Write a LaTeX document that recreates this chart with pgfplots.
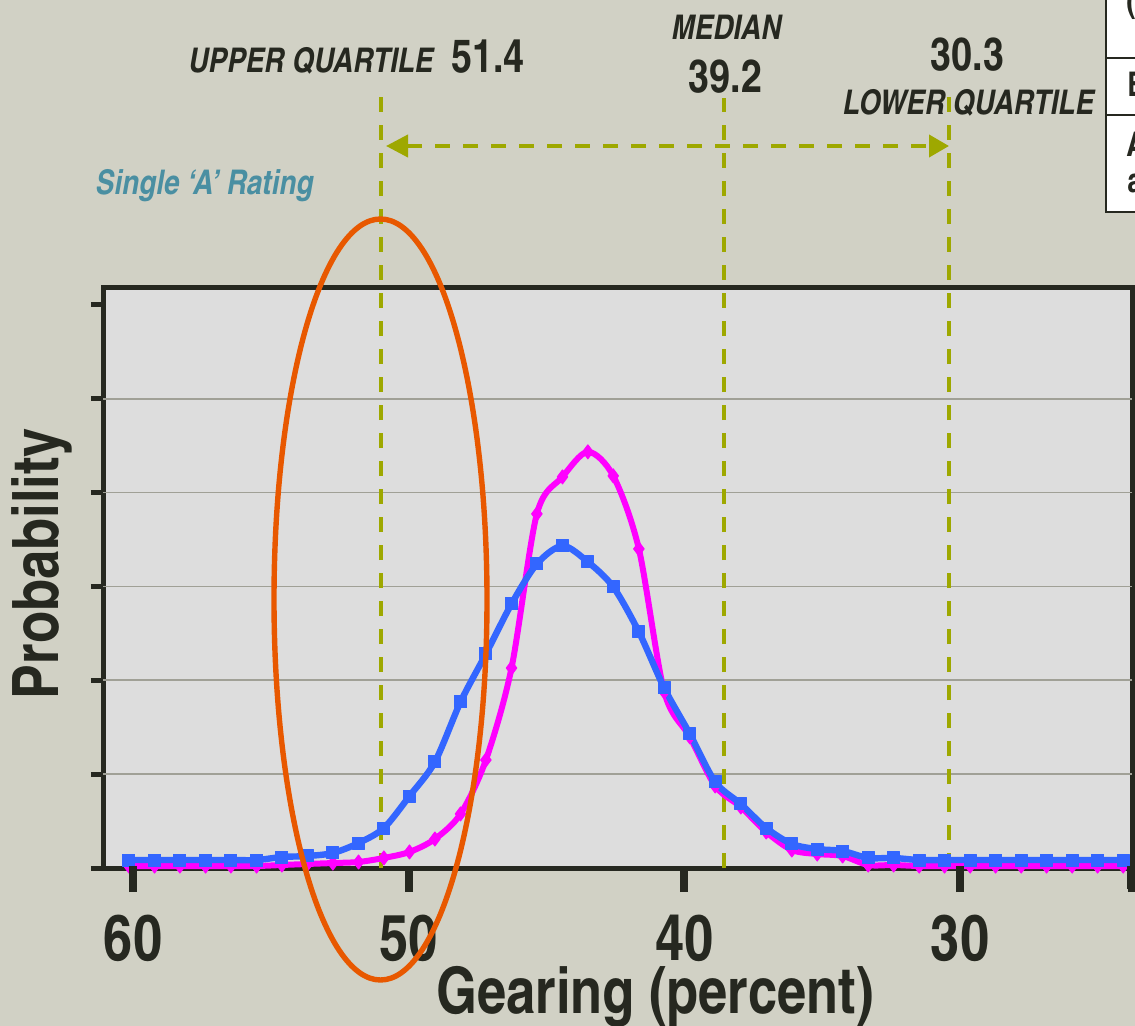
\documentclass[border=0pt]{standalone}
\usepackage{fontspec}
\setmainfont{texgyreheroscn}[Extension=.otf, UprightFont=*-regular, BoldFont=*-bold, ItalicFont=*-italic, BoldItalicFont=*-bolditalic]
\usepackage{pgfplots}
\usepackage{pgfplotstable}
\pgfplotsset{compat=1.18}
\usetikzlibrary{arrows.meta}
\definecolor{bgc}{RGB}{209,209,197}
\definecolor{plotbg}{RGB}{221,221,221}
\definecolor{axisc}{RGB}{38,40,32}
\definecolor{gridc}{RGB}{160,160,150}
\definecolor{qlinec}{RGB}{158,168,0}
\definecolor{bluec}{RGB}{51,102,255}
\definecolor{magc}{RGB}{255,0,255}
\definecolor{orangec}{RGB}{232,88,0}
\definecolor{tealc}{RGB}{74,143,162}

% gearing (percent), probability of two distributions (arbitrary units)
\pgfplotstableread{
x      blue   mag
60.15  0.085  0.021
59.22  0.085  0.021
58.30  0.085  0.021
57.37  0.085  0.021
56.45  0.085  0.021
55.52  0.085  0.021
54.60  0.117  0.032
53.67  0.128  0.043
52.75  0.160  0.053
51.82  0.266  0.064
50.90  0.426  0.107
49.97  0.767  0.171
49.05  1.130  0.309
48.12  1.769  0.576
47.20  2.281  1.151
46.27  2.814  2.131
45.35  3.240  3.773
44.42  3.432  4.167
43.50  3.261  4.434
42.58  2.995  4.178
41.65  2.515  3.400
40.73  1.918  1.876
39.80  1.428  1.396
38.88  0.917  0.874
37.95  0.682  0.650
37.03  0.426  0.384
36.10  0.256  0.192
35.18  0.202  0.149
34.26  0.181  0.128
33.33  0.107  0.032
32.41  0.107  0.032
31.48  0.085  0.021
30.56  0.085  0.021
29.63  0.085  0.021
28.71  0.085  0.021
27.78  0.085  0.021
26.86  0.085  0.021
25.93  0.085  0.021
25.01  0.085  0.021
24.08  0.085  0.021
}\gearing

\begin{document}
\begin{tikzpicture}[qline/.style={draw=qlinec, line width=2pt, dash pattern=on 7.5pt off 6.5pt}]
\useasboundingbox (0,0) rectangle (567.5pt,-513pt);
\clip (0,0) rectangle (567.5pt,-513pt);
\fill[bgc] (0,0) rectangle (567.5pt,-513pt);
% x axis runs from high gearing (left) to low gearing (right): plotted at -gearing
\begin{axis}[
  at={(51.5pt,-434pt)}, anchor=south west,
  scale only axis, width=514.5pt, height=290.5pt,
  xmin=-61.09, xmax=-23.76, ymin=0, ymax=6.19,
  axis line style={line width=2.5pt, draw=axisc},
  axis background/.style={fill=plotbg},
  clip=false,
  tick align=outside,
  xtick pos=bottom, ytick pos=left,
  xtick=\empty,
  ytick={0,1,2,3,4,5,6}, yticklabels={},
  major tick length=6pt,
  tick style={line width=2.5pt, draw=axisc},
  extra x ticks={-60,-50,-40,-30,-23.76},
  extra x tick labels={60,50,40,30,},
  extra x tick style={xtick pos=bottom, major tick length=12pt, tick style={line width=4pt, draw=axisc}},
  extra y ticks={1,2,3,4,5},
  extra y tick labels={},
  extra y tick style={ymajorgrids=true, major tick length=0pt, tick style={draw=none}},
  grid style={draw=gridc, line width=0.8pt},
  xticklabel style={font=\fontsize{32}{32}\selectfont\bfseries, text=axisc, anchor=base, yshift=-34pt},
  xlabel={Gearing (percent)}, ylabel={Probability},
  xlabel style={at={(axis description cs:0.5364,0)}, anchor=base, yshift=-72.5pt, font=\fontsize{32}{32}\selectfont\bfseries, text=axisc},
  ylabel style={at={(axis description cs:-0.0428,0.524)}, anchor=base, font=\fontsize{32}{32}\selectfont\bfseries, text=axisc},
]
\draw[qline] (axis cs:-51.0,0) -- (axis cs:-51.0,8.31);
\draw[qline] (axis cs:-38.56,0) -- (axis cs:-38.56,8.20);
\draw[qline] (axis cs:-30.40,0) -- (axis cs:-30.40,8.27);
\addplot[magc, line width=3pt, smooth, tension=0.5, line join=round, mark=diamond*, mark size=3.5pt, mark options={solid, fill=magc, line width=0.5pt}] table[x expr=-\thisrow{x}, y=mag] {\gearing};
\addplot[bluec, line width=3.2pt, smooth, tension=0.5, line join=round, mark=square*, mark size=3pt, mark options={solid, fill=bluec, line width=0.5pt}] table[x expr=-\thisrow{x}, y=blue] {\gearing};
\end{axis}
\begin{scope}[x=0.5pt,y=-0.5pt]
% tick marks below the gearing axis
\draw[axisc, line width=4pt] (133,866) -- (133,892);
\draw[axisc, line width=4pt] (408.7,866) -- (408.7,892);
\draw[axisc, line width=4pt] (684.4,866) -- (684.4,892);
\draw[axisc, line width=4pt] (960.1,866) -- (960.1,892);
\draw[axisc, line width=3pt] (1129.5,866) -- (1129.5,889);
\draw[qline, {Triangle[length=11pt,width=11pt]}-{Triangle[length=10pt,width=11pt]}] (386,146) -- (949,146);
\node[font=\fontsize{17}{17}\selectfont\bfseries\itshape, text=axisc, anchor=base, inner sep=0pt] at (311,73) {UPPER QUARTILE};
\node[font=\fontsize{23}{23}\selectfont\bfseries, text=axisc, anchor=base, inner sep=0pt] at (488,73) {51.4};
\node[font=\fontsize{17}{17}\selectfont\bfseries\itshape, text=axisc, anchor=base, inner sep=0pt] at (726.5,40) {MEDIAN};
\node[font=\fontsize{23}{23}\selectfont\bfseries, text=axisc, anchor=base, inner sep=0pt] at (725.5,93) {39.2};
\node[font=\fontsize{23}{23}\selectfont\bfseries, text=axisc, anchor=base, inner sep=0pt] at (967.5,71) {30.3};
\node[font=\fontsize{17}{17}\selectfont\bfseries\itshape, text=axisc, anchor=base, inner sep=0pt] at (968.5,115) {LOWER QUARTILE};
\node[font=\fontsize{17}{17}\selectfont\bfseries\itshape, text=tealc, anchor=base, inner sep=0pt] at (204.5,195) {Single ‘A’ Rating};
\fill[white] (1106,-10) rectangle (1200,212);
\draw[axisc, line width=1pt] (1106,-10) -- (1106,212) -- (1200,212);
\draw[axisc, line width=1pt] (1106,58) -- (1200,58);
\draw[axisc, line width=1pt] (1106,115) -- (1200,115);
\node[font=\fontsize{17}{17}\selectfont\bfseries, text=axisc, anchor=base west, inner sep=0pt] at (1126,13) {(};
\node[font=\fontsize{17}{17}\selectfont\bfseries, text=axisc, anchor=base west, inner sep=0pt] at (1127,97) {B};
\node[font=\fontsize{17}{17}\selectfont\bfseries, text=axisc, anchor=base west, inner sep=0pt] at (1126,157) {A};
\node[font=\fontsize{17}{17}\selectfont\bfseries, text=axisc, anchor=base west, inner sep=0pt] at (1127,193) {a};
\draw[orangec, line width=2.7pt] (380.5,599.5) ellipse [x radius=106.5, y radius=380.5];
\end{scope}
\end{tikzpicture}
\end{document}
